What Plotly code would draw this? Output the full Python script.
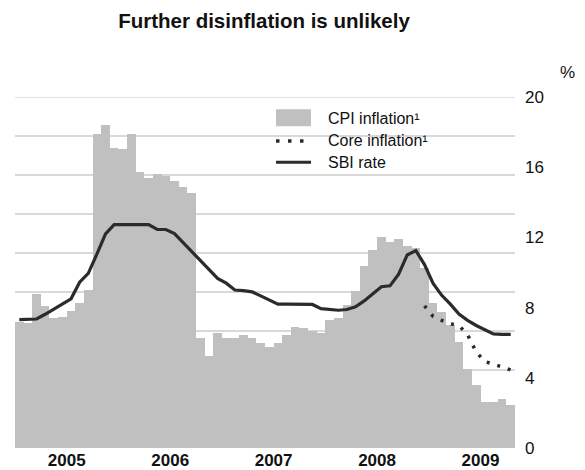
import plotly.graph_objects as go

# Monthly data, Jan 2005 - Oct 2009
cpi_inflation = [
    7.19, 7.14, 8.80, 8.10, 7.38, 7.46, 7.82, 8.29, 8.99, 17.91, 18.38, 17.11,
    17.06, 17.91, 15.73, 15.41, 15.59, 15.50, 15.21, 14.87, 14.55, 6.28, 5.24, 6.56,
    6.24, 6.29, 6.43, 6.24, 5.96, 5.73, 5.99, 6.43, 6.90, 6.81, 6.66, 6.56,
    7.32, 7.38, 8.14, 8.94, 10.36, 11.27, 12.00, 11.74, 11.90, 11.52, 11.42, 10.23,
    8.25, 7.74, 7.00, 6.05, 4.53, 3.58, 2.64, 2.64, 2.78, 2.45,
]
sbi_rate = [
    7.32, 7.32, 7.35, 7.62, 7.93, 8.22, 8.50, 9.45, 9.95, 11.05, 12.20, 12.73,
    12.73, 12.73, 12.73, 12.73, 12.45, 12.45, 12.22, 11.71, 11.20, 10.67, 10.17, 9.66,
    9.39, 9.00, 8.97, 8.90, 8.67, 8.42, 8.20, 8.20, 8.20, 8.20, 8.18, 7.94,
    7.89, 7.85, 7.89, 8.04, 8.38, 8.78, 9.19, 9.24, 9.90, 11.00, 11.25, 10.45,
    9.38, 8.70, 8.20, 7.63, 7.27, 6.98, 6.72, 6.50, 6.47, 6.47,
]
core_start = 47  # Dec 2008
core_inflation = [8.10, 7.50, 7.27, 7.08, 6.98, 6.45, 5.47, 4.92, 4.78, 4.64, 4.45]

year_labels = ["2005", "2006", "2007", "2008", "2009"]
y_ticks = [0, 4, 8, 12, 16, 20]

n = len(cpi_inflation)
x_month = [k + 0.5 for k in range(n)]
x_core = [k + 0.5 for k in range(core_start, core_start + len(core_inflation))]
year_centers = [6 + 12 * i for i in range(len(year_labels))]

FONT = "Liberation Sans, Arial, Helvetica, sans-serif"
BAR_COL = "#c0c0c0"
LINE_COL = "#2b2b2b"
GRID_COL = "#d9d9d9"
CORE_DASH = "3px,8px"

fig = go.Figure()
fig.add_trace(go.Bar(x=x_month, y=cpi_inflation, width=1.0, marker_color=BAR_COL,
                     marker_line_width=0, name="CPI inflation¹", showlegend=False))
fig.add_trace(go.Scatter(x=x_core, y=core_inflation, mode="lines",
                         line=dict(color=LINE_COL, width=3.5, dash=CORE_DASH),
                         name="Core inflation¹", showlegend=False))
fig.add_trace(go.Scatter(x=x_month, y=sbi_rate, mode="lines",
                         line=dict(color=LINE_COL, width=3.2),
                         name="SBI rate", showlegend=False))
# invisible trace to activate the grid axis
fig.add_trace(go.Scatter(x=[0], y=[0], yaxis="y2", mode="markers",
                         marker=dict(opacity=0), showlegend=False, hoverinfo="skip"))

L, R, T, B = 15, 70, 96.7, 22
W, H = 585, 470
pw, ph = W - L - R, H - T - B

def px(xp):
    return (xp - L) / pw

def py(yp):
    return (H - B - yp) / ph

shapes = [
    # top gridline (at the upper edge of the plot area)
    dict(type="line", xref="paper", yref="y", x0=0, x1=1, y0=max(y_ticks), y1=max(y_ticks),
         line=dict(color=GRID_COL, width=1.5), layer="below"),
    # manual legend
    dict(type="rect", xref="paper", yref="paper", x0=px(276), x1=px(311), y0=py(126), y1=py(109),
         fillcolor=BAR_COL, line_width=0),
    dict(type="line", xref="paper", yref="paper", x0=px(276), x1=px(312), y0=py(140.7), y1=py(140.7),
         line=dict(color=LINE_COL, width=3.5, dash="3.5px,8.5px")),
    dict(type="line", xref="paper", yref="paper", x0=px(276), x1=px(311), y0=py(162), y1=py(162),
         line=dict(color=LINE_COL, width=3.2)),
]
legend_texts = ["CPI inflation¹", "Core inflation¹", "SBI rate"]
legend_y = [118, 140, 162]
annotations = [
    dict(text=t, x=px(326), y=py(yy), xref="paper", yref="paper", xanchor="left", yanchor="middle",
         showarrow=False, font=dict(family=FONT, size=16, color="#111"))
    for t, yy in zip(legend_texts, legend_y)
]
annotations.append(dict(text="%", x=px(567), y=py(72), xref="paper", yref="paper",
                        xanchor="center", yanchor="middle", showarrow=False,
                        font=dict(family=FONT, size=17, color="#111")))

fig.update_layout(
    width=W, height=H,
    margin=dict(l=L, r=R, t=T, b=B, pad=0, autoexpand=False),
    paper_bgcolor="white", plot_bgcolor="white",
    bargap=0,
    font=dict(family=FONT, color="#111"),
    title=dict(text="<b>Further disinflation is unlikely</b>", x=px(264), xref="paper",
               xanchor="center", y=1 - 21 / H, yanchor="middle",
               font=dict(family=FONT, size=20.5, color="#111")),
    xaxis=dict(range=[0, n], tickvals=year_centers, ticktext=[f"<b>{s}</b>" for s in year_labels],
               showgrid=False, zeroline=False, showline=False, ticks="", automargin=False,
               tickfont=dict(family=FONT, size=17, color="#111")),
    yaxis=dict(range=[0, 20], tickvals=y_ticks, side="right", showgrid=False, zeroline=False,
               showline=False, ticks="", ticklabelstandoff=9, automargin=False,
               tickfont=dict(family=FONT, size=17, color="#111")),
    yaxis2=dict(range=[0, 9], overlaying="y", side="left", tickvals=list(range(1, 9)),
                showgrid=True, gridcolor=GRID_COL, gridwidth=1.5, showticklabels=False,
                zeroline=False, ticks="", showline=False, automargin=False),
    shapes=shapes,
    annotations=annotations,
    showlegend=False,
)

fig.write_html("out.html", config={"displayModeBar": False},
               post_script="document.body.style.margin='0';document.body.style.overflow='hidden';")
